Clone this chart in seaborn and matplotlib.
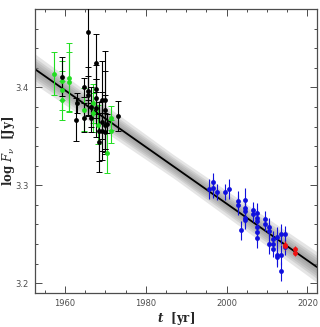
import numpy as np
import pandas as pd
import matplotlib
matplotlib.use("Agg")
import matplotlib.pyplot as plt
import seaborn as sns
from matplotlib.ticker import MultipleLocator

# green points
green_t = [1957.3, 1959.4, 1959.4, 1959.4, 1961.1, 1961.1, 1964.8, 1967.0, 1967.0, 1968.2, 1970.5, 1971.5, 1971.5]
green_f = [3.414, 3.407, 3.397, 3.387, 3.410, 3.406, 3.377, 3.384, 3.374, 3.362, 3.333, 3.369, 3.355]
green_e = [0.022, 0.020, 0.020, 0.020, 0.035, 0.030, 0.022, 0.020, 0.020, 0.020, 0.020, 0.012, 0.012]

# black points
black_t = [1959.4, 1962.7, 1963.1, 1964.8, 1964.8, 1965.8, 1965.8, 1965.8, 1966.4, 1966.4, 1967.6, 1967.6,
           1967.6, 1967.6, 1968.4, 1968.4, 1969.3, 1969.3, 1969.3, 1969.9, 1969.9, 1969.9, 1969.9, 1970.5, 1973.2]
black_f = [3.411, 3.367, 3.384, 3.400, 3.369, 3.457, 3.396, 3.392, 3.369, 3.380, 3.425, 3.398,
           3.389, 3.379, 3.344, 3.355, 3.387, 3.365, 3.356, 3.387, 3.377, 3.362, 3.354, 3.363, 3.371]
black_e = [0.020, 0.022, 0.010, 0.010, 0.015, 0.070, 0.025, 0.020, 0.015, 0.020, 0.030, 0.025,
           0.020, 0.030, 0.030, 0.030, 0.040, 0.030, 0.030, 0.050, 0.040, 0.030, 0.020, 0.010, 0.015]

# blue points
blue_t = [1995.6, 1996.7, 1996.7, 1997.7, 1999.7, 2000.7, 2002.7, 2002.7, 2003.6, 2004.6, 2004.6, 2004.6,
          2004.6, 2004.6, 2006.5, 2006.5, 2007.4, 2007.4, 2007.4, 2007.4, 2007.4, 2007.4, 2009.5, 2009.5,
          2010.5, 2010.5, 2010.5, 2011.5, 2011.5, 2011.5, 2012.5, 2012.5, 2012.5, 2013.5, 2013.5, 2013.5,
          2014.5, 2014.5]
blue_f = [3.296, 3.303, 3.297, 3.293, 3.293, 3.296, 3.284, 3.280, 3.254, 3.285, 3.277, 3.274,
          3.267, 3.265, 3.275, 3.271, 3.272, 3.267, 3.264, 3.257, 3.252, 3.246, 3.266, 3.261,
          3.257, 3.253, 3.240, 3.245, 3.240, 3.235, 3.247, 3.227, 3.229, 3.250, 3.229, 3.212,
          3.250, 3.237]
blue_e = [0.010, 0.010, 0.010, 0.008, 0.008, 0.010, 0.010, 0.010, 0.010, 0.012, 0.010, 0.010,
          0.010, 0.010, 0.008, 0.008, 0.010, 0.010, 0.010, 0.010, 0.010, 0.010, 0.008, 0.008,
          0.010, 0.010, 0.010, 0.008, 0.008, 0.008, 0.010, 0.010, 0.010, 0.010, 0.010, 0.010,
          0.008, 0.008]

# red points
red_t = [2014.5, 2014.5, 2016.9, 2016.9]
red_f = [3.239, 3.238, 3.235, 3.231]
red_e = [0.004, 0.004, 0.003, 0.003]

# fit: log F = a + b (t - 1952.5)
fit_a = 3.419
fit_b = -0.0029
band_w = [0.012, 0.009, 0.007, 0.005, 0.003]

sns.set_style("ticks")
plt.rcParams["mathtext.fontset"] = "dejavuserif"
fig = plt.figure(figsize=(3.2, 3.27), dpi=100)
ax = fig.add_axes([0.108, 0.104, 0.882, 0.868])

tt = np.linspace(1952.5, 2022.3, 50)
ff = fit_a + fit_b * (tt - 1952.5)
for w in band_w:
    spread = w * (1 + 0.3 * np.abs(tt - 1987) / 35)
    ax.fill_between(tt, ff - spread, ff + spread, color="0.5", alpha=0.2, lw=0, zorder=1)
sns.lineplot(x=tt, y=ff, color="black", lw=1.3, ax=ax, zorder=2)

groups = [(green_t, green_f, green_e, "#22dd22", 2),
          (black_t, black_f, black_e, "black", 2),
          (blue_t, blue_f, blue_e, "#1010dd", 0),
          (red_t, red_f, red_e, "#ee1111", 0)]
for t, f, e, c, cap in groups:
    ax.errorbar(t, f, yerr=e, fmt="none", ecolor=c, elinewidth=0.8, capsize=cap, capthick=0.7, zorder=3)
    sns.scatterplot(x=t, y=f, color=c, s=12, edgecolor=c, linewidth=0, ax=ax, zorder=4)

ax.set_xlim(1952.5, 2022.3)
ax.set_ylim(3.19, 3.48)
ax.xaxis.set_major_locator(MultipleLocator(20))
ax.xaxis.set_minor_locator(MultipleLocator(5))
ax.yaxis.set_major_locator(MultipleLocator(0.1))
ax.yaxis.set_minor_locator(MultipleLocator(0.02))
ax.tick_params(which="both", direction="in", top=True, right=True, colors="0.3", labelcolor="0.3",
               labelsize=6, width=0.7)
ax.tick_params(which="major", length=5, pad=4)
ax.tick_params(which="minor", length=2.5)
for s in ax.spines.values():
    s.set_color("0.3")
    s.set_linewidth(0.9)

ax.set_xlabel(r"$\boldsymbol{t}$  [yr]", fontsize=8.5, family="serif", fontweight="bold", va="center")
ax.set_ylabel(r"log $\boldsymbol{F_\nu}$  [Jy]", fontsize=8.5, family="serif", fontweight="bold", va="center")
ax.xaxis.set_label_coords(0.5, -0.09)
ax.yaxis.set_label_coords(-0.092, 0.5)

fig.savefig("out.png", dpi=100)
